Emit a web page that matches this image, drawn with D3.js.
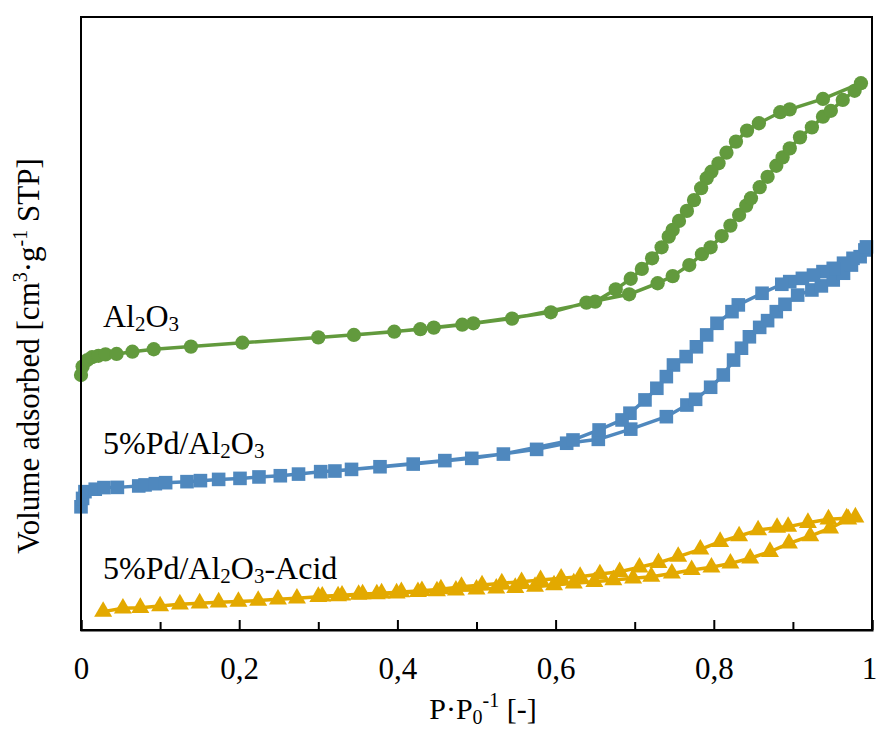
<!DOCTYPE html>
<html><head><meta charset="utf-8">
<script src="https://cdn.jsdelivr.net/npm/d3@7"></script>
<style>body{margin:0;background:#fff}svg{display:block}text{font-family:"Liberation Serif","Times New Roman",serif;fill:#000}</style>
</head><body>
<script>
// ---- data (relative pressure P/P0, volume adsorbed in arbitrary units) ----
const xTickLabels = [0, 0.2, 0.4, 0.6, 0.8, 1];
const xMinorTicks = [0.1, 0.3, 0.5, 0.7, 0.9];

const al2o3Ads = [[0.000,124.8],[0.002,128.9],[0.008,132.1],[0.014,133.5],[0.022,134.2],[0.031,134.9],[0.045,135.1],[0.065,136.2],[0.092,137.4],[0.139,138.7],[0.204,140.6],[0.300,143.2],[0.396,146.0],[0.446,148.0],[0.496,150.1],[0.594,155.5],[0.639,160.2],[0.693,164.3],[0.729,169.7],[0.748,173.2],[0.769,178.6],[0.785,183.9],[0.796,187.3],[0.810,192.8],[0.821,197.9],[0.832,203.1],[0.841,207.7],[0.847,211.3],[0.858,216.7],[0.868,221.8],[0.879,227.2],[0.887,231.3],[0.896,235.7],[0.909,241.1],[0.924,246.0],[0.938,251.2],[0.948,254.1],[0.963,259.4],[0.978,263.9],[0.986,267.6]];
const al2o3Des = [[0.938,259.9],[0.896,254.8],[0.884,253.4],[0.857,248.0],[0.842,244.4],[0.828,239.0],[0.816,233.6],[0.806,228.4],[0.797,224.3],[0.791,221.1],[0.784,216.2],[0.775,210.4],[0.766,205.1],[0.756,200.2],[0.748,195.8],[0.743,192.5],[0.734,187.3],[0.722,181.9],[0.709,176.7],[0.695,171.9],[0.676,166.7],[0.650,160.7],[0.545,152.4],[0.482,149.4],[0.429,147.2],[0.345,144.4]];

const pdAds = [[0.000,60.3],[0.002,64.4],[0.005,67.7],[0.018,68.9],[0.029,69.7],[0.046,69.8],[0.073,70.5],[0.081,71.0],[0.094,71.6],[0.107,72.1],[0.134,72.6],[0.151,73.1],[0.174,73.7],[0.201,74.2],[0.225,74.9],[0.252,75.5],[0.275,76.3],[0.303,77.5],[0.342,78.6],[0.420,81.2],[0.494,84.0],[0.576,88.4],[0.614,91.4],[0.654,93.3],[0.695,98.3],[0.740,104.4],[0.766,110.1],[0.777,112.9],[0.796,118.8],[0.812,124.8],[0.825,132.1],[0.835,137.9],[0.845,143.5],[0.858,148.1],[0.868,151.4],[0.879,155.8],[0.890,159.4],[0.906,163.9],[0.924,166.4],[0.936,168.4],[0.951,171.3],[0.964,174.6],[0.974,178.6],[0.985,182.7],[0.991,186.0]];
const pdDes = [[0.993,187.5],[0.976,181.9],[0.964,179.5],[0.951,177.0],[0.938,175.4],[0.926,173.7],[0.912,172.1],[0.896,170.5],[0.886,169.2],[0.861,164.8],[0.831,159.1],[0.823,155.8],[0.804,150.1],[0.791,144.4],[0.778,138.6],[0.765,133.8],[0.749,129.7],[0.740,124.0],[0.728,118.3],[0.713,112.6],[0.694,106.1],[0.684,102.8],[0.655,97.9],[0.622,93.0],[0.534,86.1],[0.460,82.9],[0.378,79.9],[0.321,77.8]];

const acidAds = [[0.028,9.0],[0.053,10.6],[0.075,10.9],[0.100,11.7],[0.125,12.6],[0.150,13.1],[0.174,13.6],[0.199,13.9],[0.224,14.4],[0.249,15.0],[0.273,15.5],[0.300,16.3],[0.325,16.6],[0.351,17.3],[0.374,17.6],[0.399,18.0],[0.426,18.7],[0.450,19.0],[0.474,19.4],[0.500,19.9],[0.525,20.4],[0.549,20.7],[0.574,21.2],[0.598,22.0],[0.623,22.9],[0.649,23.6],[0.673,24.5],[0.698,25.3],[0.721,26.1],[0.747,27.7],[0.772,29.4],[0.797,30.7],[0.821,32.6],[0.846,35.1],[0.871,38.3],[0.895,42.4],[0.922,46.0],[0.947,49.8],[0.970,54.2],[0.979,55.2]];
const acidDes = [[0.968,54.7],[0.945,54.2],[0.919,52.5],[0.894,50.6],[0.880,50.1],[0.856,48.9],[0.832,46.0],[0.808,43.2],[0.783,39.5],[0.755,35.9],[0.730,32.9],[0.706,30.7],[0.681,28.5],[0.656,27.4],[0.631,26.1],[0.607,25.3],[0.581,24.5],[0.557,23.6],[0.532,22.9],[0.507,22.0],[0.481,21.2],[0.455,20.0],[0.431,19.2],[0.405,18.6],[0.380,18.0],[0.356,17.6],[0.330,17.0],[0.305,16.5]];

const series = [
  {name:"Al2O3", ads:al2o3Ads, des:al2o3Des, color:"#629a3d", symbol:d3.symbolCircle, size:160},
  {name:"5%Pd/Al2O3", ads:pdAds, des:pdDes, color:"#4f88be", symbol:d3.symbolSquare, size:185},
  {name:"5%Pd/Al2O3-Acid", ads:acidAds, des:acidDes, color:"#e3a900", symbol:d3.symbolTriangle, size:140}
];

// ---- layout ----
const W = 877, H = 729;
const m = {left:81, right:5, top:17, bottom:99};
const svg = d3.select("body").append("svg").attr("width", W).attr("height", H);
const x = d3.scaleLinear().domain([0,1]).range([m.left, W - m.right]);
const y = d3.scaleLinear().domain([0,300]).range([H - m.bottom, m.top]);

const fmt = d3.formatLocale({decimal:",", thousands:".", grouping:[3], currency:["",""]}).format("~g");
const SERIF = '"Liberation Serif","Times New Roman",serif';

// series
const line = d3.line().x(d=>x(d[0])).y(d=>y(d[1]));
series.forEach(s => {
  const pts = s.ads.concat(s.des);
  const g = svg.append("g");
  g.append("path").attr("d", line(pts)).attr("fill","none")
    .attr("stroke", s.color).attr("stroke-width", 3.5).attr("stroke-linejoin","round");
  g.selectAll("path.mk").data(pts).join("path").attr("class","mk")
    .attr("d", d3.symbol().type(s.symbol).size(s.size))
    .attr("transform", d => `translate(${x(d[0])},${y(d[1])})`)
    .attr("fill", s.color);
});

// frame
svg.append("rect").attr("x", m.left).attr("y", m.top)
  .attr("width", W - m.right - m.left).attr("height", H - m.bottom - m.top)
  .attr("fill","none").attr("stroke","#000").attr("stroke-width",2);

// x axis
const xAxis = svg.append("g").attr("transform", `translate(0,${H - m.bottom})`)
  .call(d3.axisBottom(x).tickValues(xTickLabels).tickSize(-10).tickPadding(0).tickFormat(fmt));
xAxis.select(".domain").attr("stroke","#000").attr("stroke-width",2);
xAxis.selectAll(".tick line").attr("stroke","#000").attr("stroke-width",2);
xAxis.selectAll(".tick text").attr("y", 49).attr("dy", 0)
  .style("font-family",SERIF).style("font-size","31px").attr("fill","#000");
xAxis.selectAll(".tick text").filter(d => d === 1).attr("dx", -3);
const xMinor = svg.append("g").attr("transform", `translate(0,${H - m.bottom})`)
  .call(d3.axisBottom(x).tickValues(xMinorTicks).tickSize(-8).tickFormat(""));
xMinor.select(".domain").remove();
xMinor.selectAll(".tick line").attr("stroke","#000").attr("stroke-width",2);

// series labels
function chem(xx, yy, parts) {
  const tx = svg.append("text").attr("x", xx).attr("y", yy).style("font-size","32px");
  parts.forEach(p => {
    const ts = tx.append("tspan").text(p[0]);
    if (p[1] === "sub") ts.style("font-size","21px").attr("dy", 4);
    else if (p[1] === "back") ts.attr("dy", -4);
  });
  return tx;
}
chem(103, 327, [["Al"],["2","sub"],["O","back"],["3","sub"]]);
chem(103, 454, [["5%Pd/Al"],["2","sub"],["O","back"],["3","sub"]]);
chem(103, 579, [["5%Pd/Al"],["2","sub"],["O","back"],["3","sub"],["-Acid","back"]]);

// axis titles
const yt = svg.append("text").attr("transform","translate(39,356) rotate(-90)")
  .attr("text-anchor","middle").style("font-size","31px");
yt.append("tspan").text("Volume adsorbed [cm");
yt.append("tspan").text("3").style("font-size","20px").attr("dy",-12);
yt.append("tspan").text("·g").attr("dy",12);
yt.append("tspan").text("-1").style("font-size","20px").attr("dy",-12);
yt.append("tspan").text(" STP]").attr("dy",12);

const xt = svg.append("text").attr("x", 483).attr("y", 719)
  .attr("text-anchor","middle").style("font-size","30px");
xt.append("tspan").text("P·P");
xt.append("tspan").text("0").style("font-size","20px").attr("dy",5);
xt.append("tspan").text("-1").style("font-size","20px").attr("dy",-17);
xt.append("tspan").text(" [-]").attr("dy",12);
</script>
</body></html>
